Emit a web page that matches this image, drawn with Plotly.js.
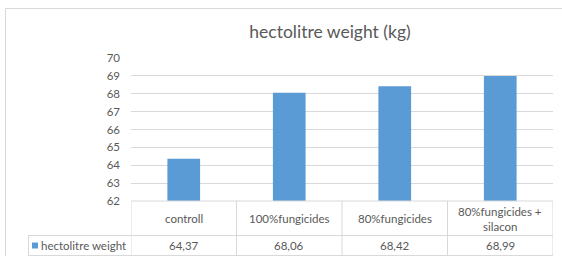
<!DOCTYPE html>
<html>
<head>
<meta charset="utf-8">
<script src="https://cdn.plot.ly/plotly-3.0.1.min.js"></script>
<style>html,body{margin:0;padding:0;background:#fff;}#chart{width:562px;height:256px;}</style>
</head>
<body>
<div id="chart"></div>
<script>
const categories = ['controll', '100%fungicides', '80%fungicides', '80%fungicides +<br>silacon'];
const values = [64.37, 68.06, 68.42, 68.99];
const seriesName = 'hectolitre weight';
const chartTitle = 'hectolitre weight (kg)';
const yTicks = [62, 63, 64, 65, 66, 67, 68, 69, 70];

const W = 562, H = 256;
const L = 131, R = 9, T = 58, B = 55;
const pw = W - L - R, ph = H - T - B;
const px = x => (x - L) / pw;          // pixel -> paper x
const py = y => (H - B - y) / ph;      // pixel -> paper y

const gridCol = '#d9d9d9';
const txtCol = '#595959';
const font = 'Lato, "Open Sans", sans-serif';

const shapes = [];
const annotations = [];
const line = (x0, y0, x1, y1, xref) => shapes.push({type: 'line', xref: xref || 'paper', yref: 'paper',
  x0: x0, y0: y0, x1: x1, y1: y1, line: {color: gridCol, width: 1}});

// outer chart frame (left + top)
line(px(5.5), py(8.5), px(5.5), py(260));
line(px(5.5), py(8.5), px(570), py(8.5));

// data table
const yTop = 0, yMid = py(235.5), yBot = py(255.5);
line(0, yTop, 1, yTop);
line(px(28), yMid, 1, yMid);
line(px(28), yBot, 1, yBot);
line(px(28.5), yMid, px(28.5), yBot);
for (let i = 0; i <= categories.length; i++) {
  shapes.push({type: 'line', xref: 'x', yref: 'paper', x0: i - 0.5, x1: i - 0.5, y0: yTop, y1: yBot,
    line: {color: gridCol, width: 1}});
}
const tFont = {family: font, size: 11.5, color: txtCol};
categories.forEach((c, i) => {
  const parts = c.split('<br>');
  parts.forEach((p, k) => {
    const yc = 218.5 + (k - (parts.length - 1) / 2) * 15;
    annotations.push({xref: 'x', yref: 'paper', x: i, y: py(yc), text: p, showarrow: false,
      font: tFont, yanchor: 'middle'});
  });
  annotations.push({xref: 'x', yref: 'paper', x: i, y: py(245.5), text: values[i].toFixed(2).replace('.', ','),
    showarrow: false, font: tFont, yanchor: 'middle'});
});
// legend key in table
shapes.push({type: 'rect', xref: 'paper', yref: 'paper', x0: px(32), x1: px(38), y0: py(242.5), y1: py(248.5),
  fillcolor: '#5b9bd5', line: {width: 0}});
annotations.push({xref: 'paper', yref: 'paper', x: px(39), y: py(245.5), text: seriesName, showarrow: false,
  xanchor: 'left', yanchor: 'middle', font: tFont});

const data = [{
  type: 'bar', x: categories, y: values, name: seriesName,
  marker: {color: '#5b9bd5'}, hoverinfo: 'none'
}];

const layout = {
  width: W, height: H,
  margin: {l: L, r: R, t: T, b: B, pad: 0},
  paper_bgcolor: '#fff', plot_bgcolor: '#fff',
  showlegend: false,
  bargap: 0.69,
  title: {text: chartTitle, x: 330 / W, xanchor: 'center', y: 1 - 32 / H, yanchor: 'middle',
    font: {family: font, size: 17.5, color: txtCol}},
  xaxis: {type: 'category', showticklabels: false, showgrid: false, zeroline: false, showline: false,
    range: [-0.5, categories.length - 0.5], fixedrange: true},
  yaxis: {range: [62, 70], tickvals: yTicks, ticktext: yTicks.map(String), showgrid: true, gridcolor: gridCol,
    gridwidth: 1, zeroline: false, showline: false, ticks: '', ticklabelstandoff: 10,
    tickfont: {family: font, size: 11.5, color: txtCol}, fixedrange: true},
  shapes: shapes,
  annotations: annotations
};

Plotly.newPlot('chart', data, layout, {staticPlot: true, displayModeBar: false});
</script>
</body>
</html>
